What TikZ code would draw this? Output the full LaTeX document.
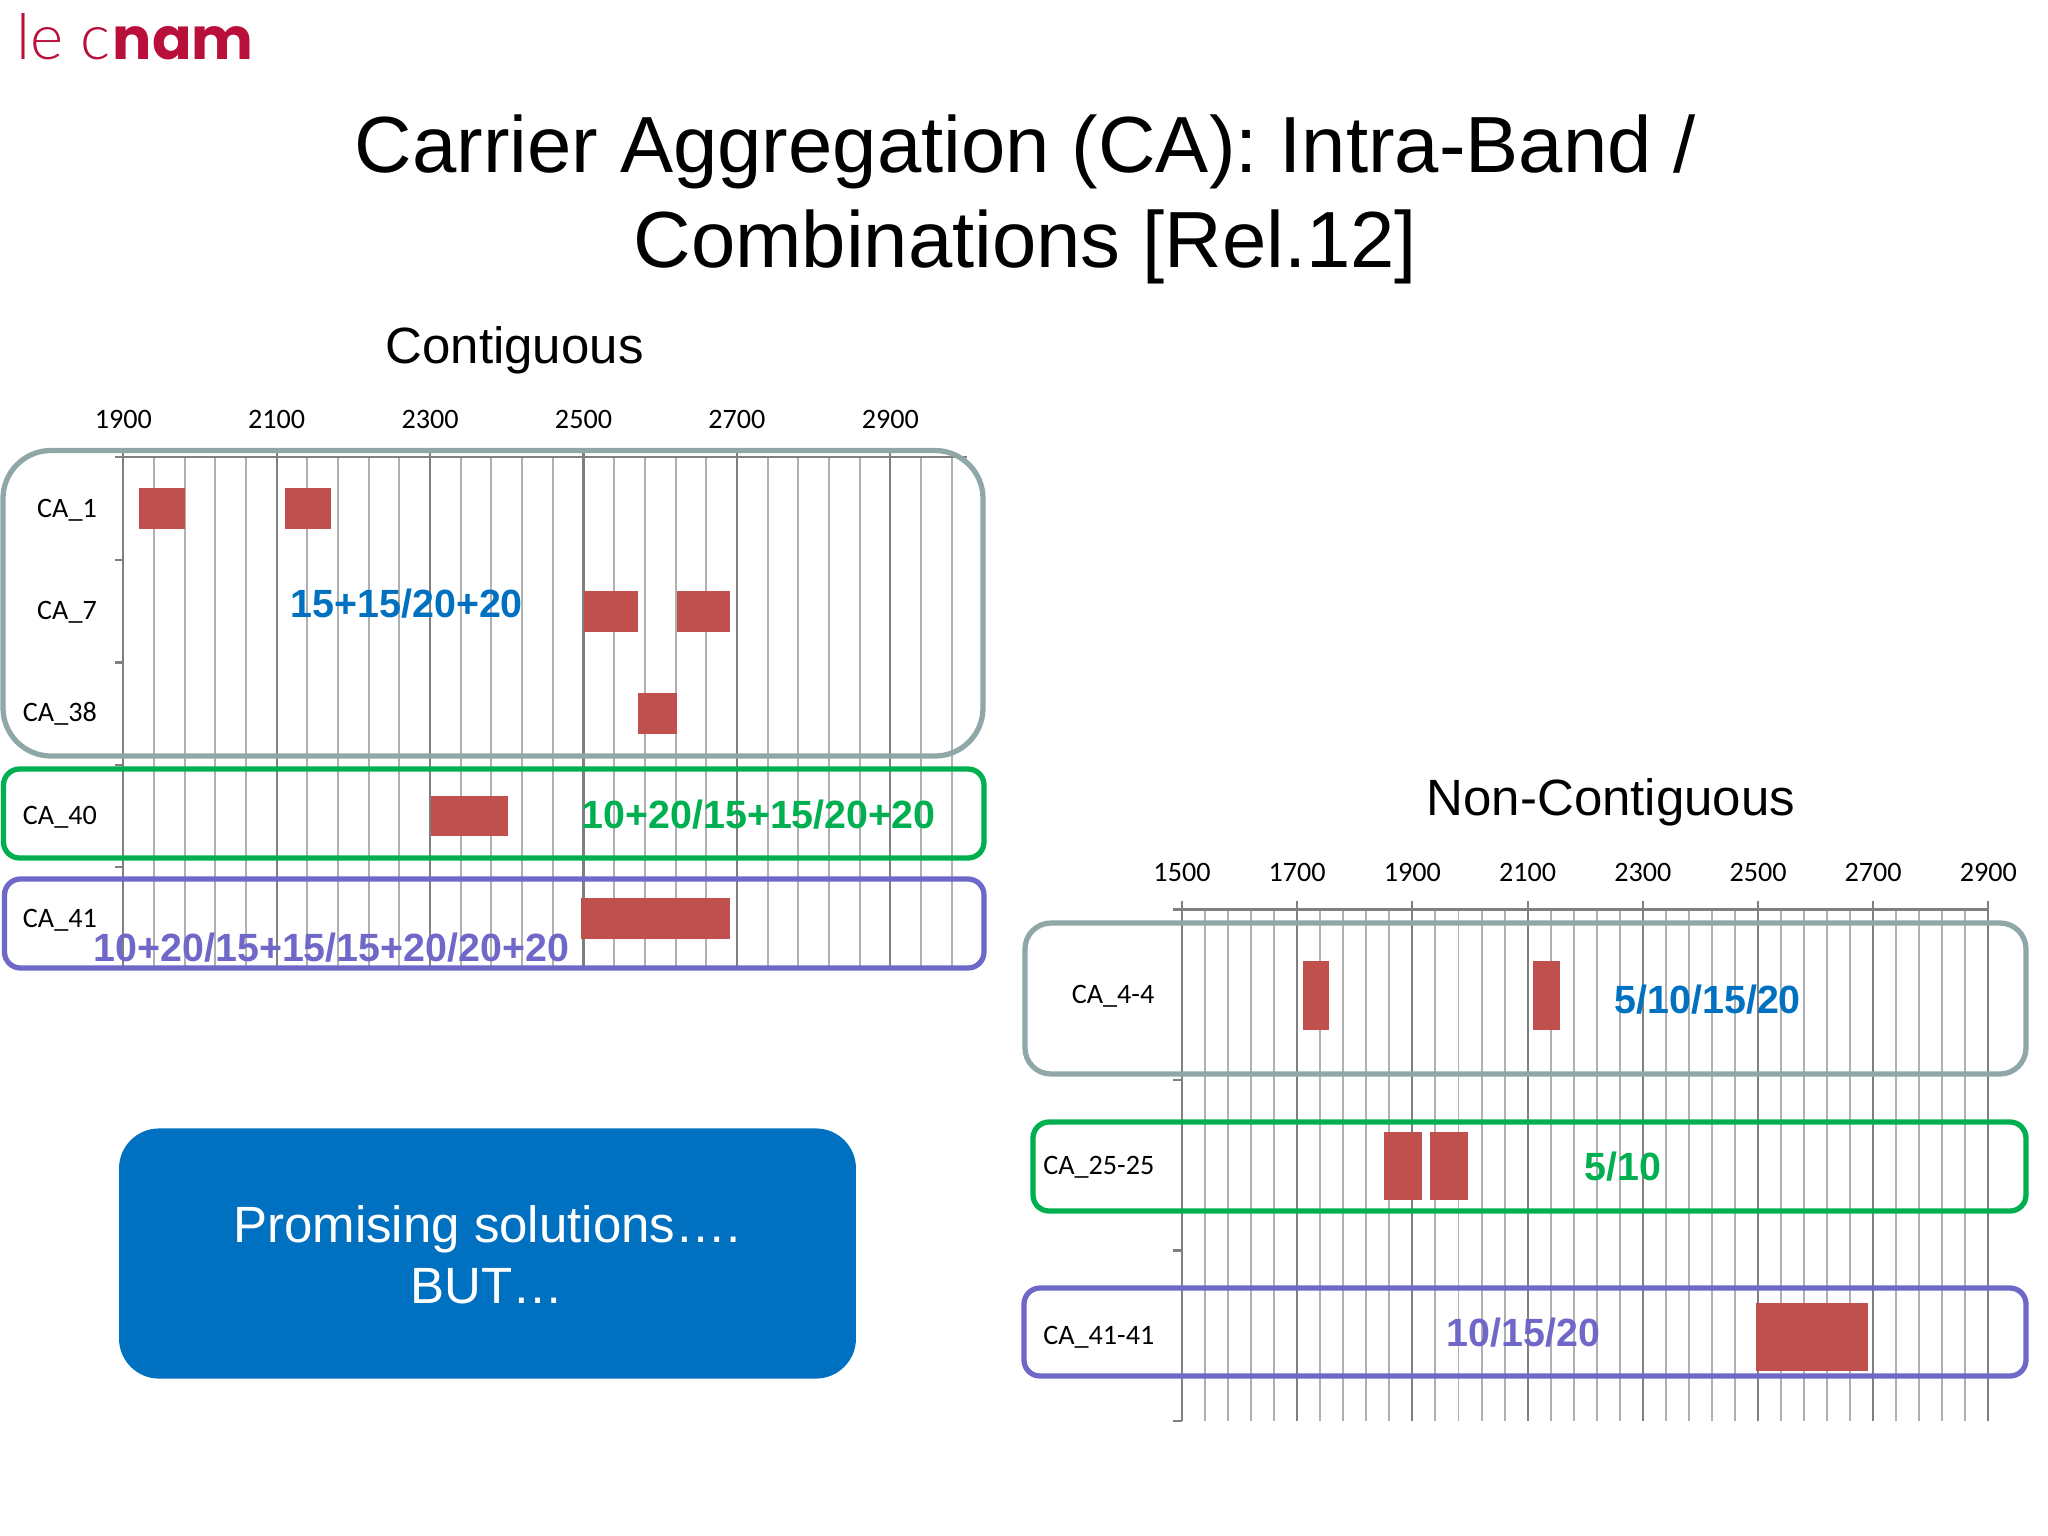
\documentclass[tikz,border=0pt]{standalone}
\usepackage{fontspec}
\setmainfont{Liberation Sans}
\newfontfamily\chartfont{Carlito}
\newfontfamily\logofont{Lato Light}
\newfontfamily\logobold{Poppins}
\usepackage{xcolor}
\definecolor{cnamred}{HTML}{B8103A}
\definecolor{caBlue}{HTML}{0070C0}
\definecolor{caGreen}{HTML}{00B050}
\definecolor{caPurple}{HTML}{6F68C8}
\definecolor{caGray}{HTML}{8FA7A7}
\definecolor{barred}{HTML}{C0504D}
\definecolor{minorgrid}{HTML}{B0B0B0}
\definecolor{majorgrid}{HTML}{808080}

\tikzset{
  minorline/.style={draw=minorgrid,line width=0.55pt},
  majorline/.style={draw=majorgrid,line width=0.6pt},
  bandbar/.style={fill=barred},
  bandbox/.style={line width=1.5pt},
  chartlab/.style={font=\chartfont\fontsize{8}{10}\selectfont,inner sep=0pt},
  rowlab/.style={chartlab,anchor=base east},
  ticklab/.style={chartlab,anchor=base},
  widthlab/.style={font=\bfseries\fontsize{11.2}{14}\selectfont,inner sep=0pt,anchor=base west},
  headlab/.style={font=\fontsize{14.5}{18}\selectfont,inner sep=0pt,anchor=base},
  titlelab/.style={font=\fontsize{22.65}{26}\selectfont,inner sep=0pt,anchor=base},
  calloutlab/.style={font=\fontsize{14.5}{18}\selectfont,text=white,inner sep=0pt,anchor=base}
}

\begin{document}
\begin{tikzpicture}[x=0.01cm,y=-0.01cm]
\useasboundingbox (0,0) rectangle (2048,1536);

% Logo
\node[inner sep=0pt,anchor=base west,text=cnamred] (logo) at (16,59)
  {\fontsize{18}{20}\selectfont\logofont le\ c\kern0.6pt\fontsize{16.6}{20}\selectfont\logobold\bfseries nam};

% Title
\node[titlelab] (title1) at (1025.5,172.5) {Carrier Aggregation (CA): Intra-Band /};
\node[titlelab] (title2) at (1025.5,267) {Combinations [Rel.12]};

% Section heads
\node[headlab] (headcont) at (514.6,363) {Contiguous};
\node[headlab] (headnon) at (1611,815.5) {Non-Contiguous};

% Left grid
\foreach \i in {0,...,27} {
  \draw[minorline] ({123.3+\i*30.68},457) -- ({123.3+\i*30.68},969);
}
\foreach \i in {0,...,5} {
  \draw[majorline] ({123.3+\i*153.4},451) -- ({123.3+\i*153.4},969);
}
\draw[majorline] (115,457) -- (967,457);
\foreach \y in {560,662.5,765,867} {
  \draw[majorline] (115,\y) -- (123.3,\y);
}

% Left tick labels
\foreach \i/\lab in {0/1900,1/2100,2/2300,3/2500,4/2700,5/2900} {
  \node[ticklab] (ltick\lab) at ({123.3+\i*153.4},428) {\lab};
}

% Left bars
\fill[bandbar] (139,488) rectangle (185,529);
\fill[bandbar] (285,488) rectangle (331,529);
\fill[bandbar] (584,591) rectangle (638,631.5);
\fill[bandbar] (677,591) rectangle (730,631.5);
\fill[bandbar] (638,693) rectangle (677,734);
\fill[bandbar] (431,795.5) rectangle (507.5,836);
\fill[bandbar] (581,898) rectangle (730,939);

% Left boxes
\draw[bandbox,draw=caGray,rounded corners=0.48cm] (3,450.5) rectangle (983,756);
\draw[bandbox,draw=caGreen,rounded corners=0.16cm] (3.5,769) rectangle (984,858);
\draw[bandbox,draw=caPurple,rounded corners=0.16cm] (4.5,879) rectangle (984,968);

% Left row labels
\node[rowlab] (ca1) at (97.5,517) {CA\_1};
\node[rowlab] (ca7) at (97.5,619) {CA\_7};
\node[rowlab] (ca38) at (97.5,721) {CA\_38};
\node[rowlab] (ca40) at (97.5,824) {CA\_40};
\node[rowlab] (ca41) at (97.5,927) {CA\_41};

% Left widths
\node[widthlab,text=caBlue] (wblue) at (290,617) {15+15/20+20};
\node[widthlab,text=caGreen] (wgreen) at (581,828) {10+20/15+15/20+20};
\node[widthlab,text=caPurple] (wpurple) at (93,961) {10+20/15+15/15+20/20+20};

% Right grid
\foreach \i in {0,...,35} {
  \draw[minorline] ({1182+\i*23.04},909.5) -- ({1182+\i*23.04},1421);
}
\foreach \i in {0,...,7} {
  \draw[majorline] ({1182+\i*115.2},901) -- ({1182+\i*115.2},1421);
}
\draw[majorline] (1173,909.5) -- (1988.3,909.5);
\foreach \y in {1080,1250.5,1421} {
  \draw[majorline] (1173,\y) -- (1182,\y);
}

% Right tick labels
\foreach \i/\lab in {0/1500,1/1700,2/1900,3/2100,4/2300,5/2500,6/2700,7/2900} {
  \node[ticklab] (rtick\lab) at ({1182+\i*115.2},881) {\lab};
}

% Right bars
\fill[bandbar] (1303,961) rectangle (1329,1029.5);
\fill[bandbar] (1533,961) rectangle (1559.5,1029.5);
\fill[bandbar] (1383.5,1131.5) rectangle (1421.5,1200);
\fill[bandbar] (1430,1131.5) rectangle (1467.5,1200);
\fill[bandbar] (1756,1302.5) rectangle (1868,1370.5);

% Right boxes
\draw[bandbox,draw=caGray,rounded corners=0.26cm] (1025,923) rectangle (2026,1074);
\draw[bandbox,draw=caGreen,rounded corners=0.16cm] (1033,1122) rectangle (2026,1211);
\draw[bandbox,draw=caPurple,rounded corners=0.16cm] (1024,1288) rectangle (2026,1376);

% Right row labels
\node[rowlab] (ca44) at (1155,1003) {CA\_4-4};
\node[rowlab] (ca2525) at (1155,1174) {CA\_25-25};
\node[rowlab] (ca4141) at (1155,1344) {CA\_41-41};

% Right widths
\node[widthlab,text=caBlue] (wrblue) at (1614,1013) {5/10/15/20};
\node[widthlab,text=caGreen] (wrgreen) at (1584,1180) {5/10};
\node[widthlab,text=caPurple] (wrpurple) at (1446,1346) {10/15/20};

% Callout
\node[fill=caBlue,rounded corners=0.4cm,minimum width=7.365cm,minimum height=2.5cm,inner sep=0pt] (promise) at (487.5,1253.5) {};
\node[calloutlab] (promise1) at (487,1242) {Promising solutions….};
\node[calloutlab] (promise2) at (487,1303) {BUT…};

\end{tikzpicture}
\end{document}
